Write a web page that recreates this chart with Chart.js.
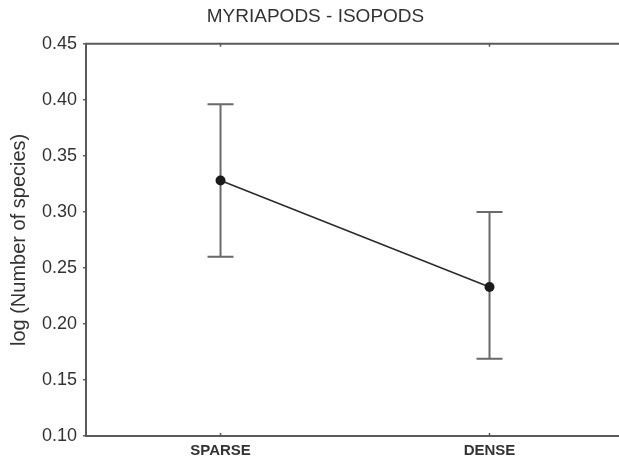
<!DOCTYPE html>
<html>
<head>
<meta charset="utf-8">
<script src="https://cdn.jsdelivr.net/npm/chart.js@4"></script>
<style>
  html, body { margin: 0; padding: 0; background: #fff; overflow: hidden; }
  #wrap { width: 619px; height: 460px; overflow: hidden; }
</style>
</head>
<body>
<div id="wrap"><canvas id="chart" width="626" height="460"></canvas></div>
<script>
// group means with their error-bar limits
const groups = ["SPARSE", "DENSE"];
const means = [0.328, 0.233];
const lower = [0.260, 0.169];
const upper = [0.396, 0.300];
const yTicks = [0.10, 0.15, 0.20, 0.25, 0.30, 0.35, 0.40, 0.45];

// whiskers + caps, top frame line and the small inward x ticks
const errorBars = {
  id: "errorBars",
  afterDatasetsDraw(chart) {
    let ctx = chart.ctx;
    let x = chart.scales.x;
    let y = chart.scales.y;
    let area = chart.chartArea;
    ctx.save();
    ctx.strokeStyle = "#5a5a5a";
    ctx.lineWidth = 2;
    ctx.beginPath();
    ctx.moveTo(area.left - 1, area.top);
    ctx.lineTo(area.right, area.top);
    ctx.stroke();
    for (let i = 0; i < groups.length; i++) {
      let px = x.getPixelForValue(i);
      let top = y.getPixelForValue(upper[i]);
      let bot = y.getPixelForValue(lower[i]);
      ctx.strokeStyle = "#6a6a6a";
      ctx.lineWidth = 2;
      ctx.beginPath();
      ctx.moveTo(px, top);
      ctx.lineTo(px, bot);
      ctx.moveTo(px - 13, top);
      ctx.lineTo(px + 13, top);
      ctx.moveTo(px - 13, bot);
      ctx.lineTo(px + 13, bot);
      ctx.stroke();
      ctx.strokeStyle = "#5a5a5a";
      ctx.lineWidth = 1.5;
      ctx.beginPath();
      ctx.moveTo(px, area.top);
      ctx.lineTo(px, area.top + 3);
      ctx.moveTo(px, area.bottom);
      ctx.lineTo(px, area.bottom - 3);
      ctx.stroke();
    }
    // points on top of the whiskers
    ctx.fillStyle = "#1a1a1a";
    for (let i = 0; i < groups.length; i++) {
      ctx.beginPath();
      ctx.arc(x.getPixelForValue(i), y.getPixelForValue(means[i]), 5, 0, Math.PI * 2);
      ctx.fill();
    }
    ctx.restore();
  }
};

new Chart(document.getElementById("chart"), {
  type: "line",
  data: {
    labels: groups,
    datasets: [{
      data: means,
      borderColor: "#2a2a2a",
      borderWidth: 1.5,
      pointRadius: 0,
      tension: 0
    }]
  },
  options: {
    responsive: false,
    animation: false,
    layout: { padding: { top: 5, right: 2, left: 7, bottom: -6 } },
    plugins: {
      legend: { display: false },
      tooltip: { enabled: false },
      title: {
        display: true,
        text: "MYRIAPODS - ISOPODS",
        color: "#333",
        font: { family: "Liberation Sans", size: 19, weight: "normal" },
        padding: { top: 0, bottom: 16 }
      }
    },
    scales: {
      x: {
        offset: true,
        grid: { display: false, drawTicks: false },
        border: { color: "#5a5a5a", width: 2 },
        ticks: {
          color: "#333",
          padding: 6,
          font: { family: "Liberation Sans", size: 15, weight: "bold" }
        }
      },
      y: {
        min: 0.10,
        max: 0.45,
        afterBuildTicks(axis) {
          axis.ticks = yTicks.map(v => ({ value: v }));
        },
        grid: { display: true, drawOnChartArea: false, tickLength: 3, color: "#5a5a5a", lineWidth: 1.5 },
        border: { color: "#5a5a5a", width: 2 },
        ticks: {
          color: "#333",
          padding: 6,
          font: { family: "Liberation Sans", size: 18 },
          callback: v => v.toFixed(2)
        },
        title: {
          display: true,
          text: "log (Number of species)",
          color: "#333",
          font: { family: "Liberation Sans", size: 20 },
          padding: { top: 0, bottom: 5 }
        }
      }
    }
  },
  plugins: [errorBars]
});
</script>
</body>
</html>
